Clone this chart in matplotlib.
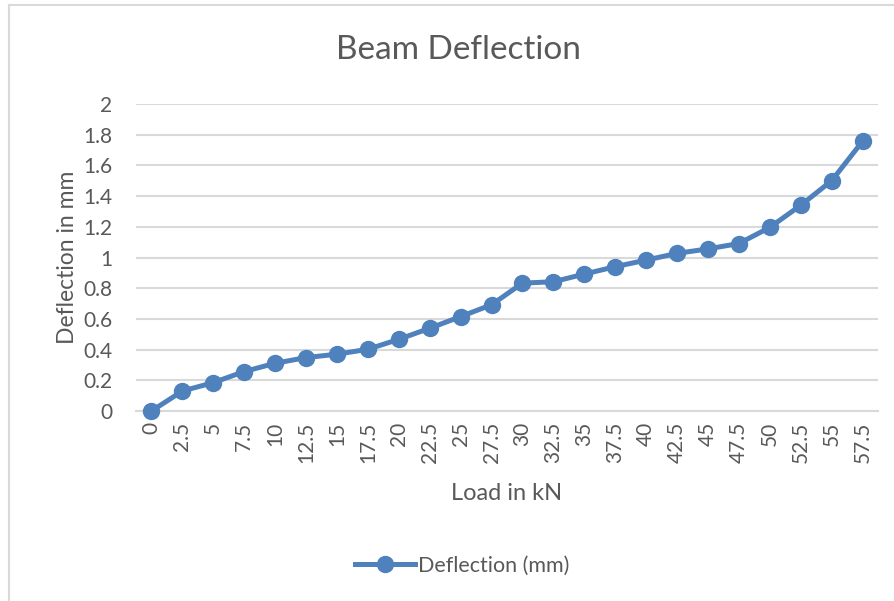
import matplotlib.pyplot as plt
from matplotlib.lines import Line2D

# data
loads = [0, 2.5, 5, 7.5, 10, 12.5, 15, 17.5, 20, 22.5, 25, 27.5,
         30, 32.5, 35, 37.5, 40, 42.5, 45, 47.5, 50, 52.5, 55, 57.5]
deflection = [0.0, 0.13, 0.185, 0.257, 0.311, 0.348, 0.37, 0.402, 0.467, 0.539, 0.615, 0.692,
              0.833, 0.842, 0.892, 0.94, 0.983, 1.027, 1.056, 1.091, 1.196, 1.34, 1.50, 1.757]
y_ticks = [0, 0.2, 0.4, 0.6, 0.8, 1, 1.2, 1.4, 1.6, 1.8, 2]

plt.rcParams['font.family'] = ['Lato', 'DejaVu Sans']
gray = "#595959"
blue = "#4f81bd"

fig = plt.figure(figsize=(8.94, 6.01), dpi=100)
ax = fig.add_axes([136 / 894, 190 / 601, (878 - 136) / 894, (411 - 104) / 601])

# chart frame (only left and top visible in the reference)
fig.add_artist(Line2D([9 / 894, 9 / 894], [0, 1 - 5 / 601], transform=fig.transFigure,
                      color="#d9d9d9", linewidth=1.5))
fig.add_artist(Line2D([9 / 894, 1], [1 - 5 / 601, 1 - 5 / 601], transform=fig.transFigure,
                      color="#d9d9d9", linewidth=1.5))

positions = list(range(len(loads)))
ax.plot(positions, deflection, color=blue, linewidth=3.6, marker="o",
        markersize=11.5, label="Deflection (mm)", zorder=3, clip_on=False)

ax.set_xlim(-0.5, len(loads) - 0.5)
ax.set_ylim(0, 2)
ax.set_yticks(y_ticks)
ax.set_yticklabels([f"{v:g}" for v in y_ticks])
ax.set_xticks(positions)
ax.set_xticklabels([f"{v:g}" for v in loads], rotation=90)

ax.grid(axis="y", color="#d9d9d9", linewidth=1.5)
ax.set_axisbelow(True)
for side in ["top", "right", "left"]:
    ax.spines[side].set_visible(False)
ax.spines["bottom"].set_color("#d9d9d9")
ax.spines["bottom"].set_linewidth(1.5)
ax.tick_params(axis="both", length=0, labelsize=15, colors=gray)
ax.tick_params(axis="y", pad=17)
ax.tick_params(axis="x", pad=8)

fig.text(458 / 894, 1 - 50 / 601, "Beam Deflection", fontsize=24, color=gray,
         ha="center", va="center")
ax.set_xlabel("Load in kN", fontsize=17, color=gray, labelpad=14)
ax.set_ylabel("Deflection in mm", fontsize=16.5, color=gray, labelpad=4)

ax.legend(loc="center", bbox_to_anchor=(462 / 894, 1 - 566 / 601), bbox_transform=fig.transFigure,
          frameon=False, fontsize=15.5, labelcolor=gray, handlelength=2.8, handletextpad=0.1)

fig.savefig("out.png", dpi=100)
